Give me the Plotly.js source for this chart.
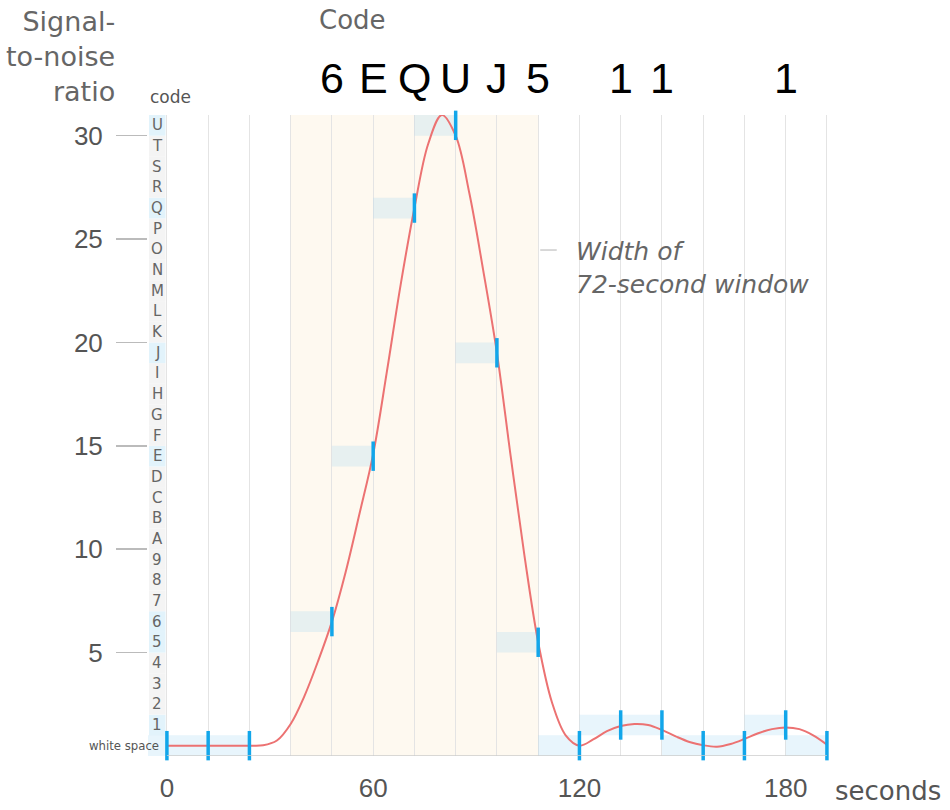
<!DOCTYPE html>
<html>
<head>
<meta charset="utf-8">
<script src="https://cdn.plot.ly/plotly-3.0.1.min.js"></script>
<style>html,body{margin:0;padding:0;background:#fff;}#chart{width:950px;height:810px;}</style>
</head>
<body>
<div id="chart"></div>
<script>
// ---- data ----
const codeList = ['white space','1','2','3','4','5','6','7','8','9','A','B','C','D','E','F','G','H','I','J','K','L','M','N','O','P','Q','R','S','T','U'];
const sampleSeconds = [0, 12, 24, 48, 60, 72, 84, 96, 108, 120, 132, 144, 156, 168, 180, 192];
const sampleCodes = ['white space','white space','white space','6','E','Q','U','J','5','white space','1','1','white space','white space','1','white space'];
const curveSeconds = [0, 8, 16, 24, 28, 32, 36, 40, 44, 48, 52, 56, 60, 64, 68, 72, 76, 80, 84, 88, 92, 96, 100, 104, 108, 112, 116, 120, 124, 128, 132, 136, 140, 144, 148, 152, 156, 160, 164, 168, 172, 176, 180, 184, 188, 192];
const curveSNR = [0.5, 0.5, 0.5, 0.5, 0.52, 0.75, 1.55, 2.9, 4.6, 6.5, 8.9, 11.7, 14.6, 18.6, 22.8, 26.5, 29.6, 31.0, 30.0, 27.2, 23.5, 19.5, 14.5, 9.7, 5.5, 2.6, 1.0, 0.5, 0.8, 1.2, 1.45, 1.55, 1.5, 1.26, 0.95, 0.68, 0.52, 0.45, 0.58, 0.82, 1.1, 1.3, 1.38, 1.3, 1.0, 0.55];
const windowSeconds = [36, 108];
const stepSeconds = 12;
const yTickVals = [5, 10, 15, 20, 25, 30];
const xTickVals = [0, 60, 120, 180];

// ---- derived ----
const codeIndex = c => codeList.indexOf(c);
const usedCodes = new Set(sampleCodes.filter(c => c !== 'white space'));

const shapes = [];
// 72-second window
shapes.push({type:'rect', xref:'x', yref:'paper', x0:windowSeconds[0], x1:windowSeconds[1], y0:0, y1:1,
  fillcolor:'#fef9f0', line:{width:0}, layer:'below'});
// code column backgrounds
codeList.forEach((c, i) => {
  if (i === 0) return;
  shapes.push({type:'rect', xref:'x', yref:'y', x0:-5.2, x1:-0.4, y0:i, y1:i+1,
    fillcolor: usedCodes.has(c) ? '#e2f3fb' : '#f4f4f4', line:{width:0}, layer:'below'});
});
// bottom axis line
shapes.push({type:'line', xref:'x', yref:'y', x0:0, x1:192, y0:0, y1:0, line:{color:'#cccccc', width:1.5}});
// leader line for window note
shapes.push({type:'line', xref:'x', yref:'y', x0:108.6, x1:113.4, y0:24.47, y1:24.47, line:{color:'#cccccc', width:1.5}});

const annotations = [];
codeList.forEach((c, i) => {
  if (i === 0) {
    annotations.push({xref:'x', yref:'y', x:-1.6, y:i+0.5, text:c, showarrow:false, xanchor:'right', yanchor:'middle',
      font:{family:'DejaVu Sans Condensed, DejaVu Sans', size:13, color:'#555'}});
  } else {
    annotations.push({xref:'x', yref:'y', x:-2.8, y:i+0.5, text:c, showarrow:false, xanchor:'center', yanchor:'middle',
      font:{family:'DejaVu Sans', size:15, color:'#666'}});
  }
});
// decoded characters on top
sampleSeconds.forEach((t, k) => {
  if (sampleCodes[k] === 'white space') return;
  annotations.push({xref:'x', yref:'paper', x:t, y:1.0577, text:sampleCodes[k], showarrow:false, xanchor:'center', yanchor:'middle',
    font:{family:'Liberation Sans, Arial', size:43, color:'#000'}});
});
annotations.push({xref:'paper', yref:'paper', x:0.248, y:1.148, text:'Code', showarrow:false, xanchor:'left', yanchor:'middle',
  font:{family:'DejaVu Sans', size:26, color:'#666'}});
annotations.push({xref:'paper', yref:'paper', x:-0.0455, y:1.092, text:'Signal-<br>to-noise<br>ratio', showarrow:false, xanchor:'right', yanchor:'middle', align:'right',
  font:{family:'DejaVu Sans', size:27, color:'#666'}});
annotations.push({xref:'paper', yref:'paper', x:0.0, y:1.028, text:'code', showarrow:false, xanchor:'left', yanchor:'middle',
  font:{family:'DejaVu Sans', size:17, color:'#555'}});
annotations.push({xref:'paper', yref:'paper', x:1.006, y:-0.0546, text:'seconds', showarrow:false, xanchor:'left', yanchor:'middle',
  font:{family:'DejaVu Sans', size:26, color:'#555'}});
annotations.push({xref:'x', yref:'y', x:118.5, y:23.6, text:'Width of<br>72-second window', showarrow:false, xanchor:'left', yanchor:'middle', align:'left',
  font:{family:'DejaVu Sans', size:25, color:'#666', style:'italic'}});

// sample rectangles as bars
const barX = sampleSeconds.map(t => t - stepSeconds/2);
const barBase = sampleCodes.map(c => codeIndex(c));
const barY = sampleCodes.map(() => 1);

const traces = [
  {type:'bar', x:barX, y:barY, base:barBase, width:stepSeconds, marker:{color:'rgba(150,210,240,0.22)', line:{width:0}},
   hoverinfo:'skip', showlegend:false},
  {type:'scatter', mode:'lines', x:curveSeconds, y:curveSNR, line:{color:'#ec7272', width:2, shape:'spline', smoothing:1},
   hoverinfo:'skip', showlegend:false},
  {type:'scatter', mode:'markers', x:sampleSeconds, y:sampleCodes.map(c => codeIndex(c) + 0.5),
   marker:{symbol:'line-ns', size:21, line:{color:'#12a6ea', width:3.5}, color:'#12a6ea'},
   cliponaxis:false, hoverinfo:'skip', showlegend:false}
];

const layout = {
  width:950, height:810,
  margin:{l:148, r:121, t:115, b:54},
  paper_bgcolor:'#fff', plot_bgcolor:'#fff',
  showlegend:false,
  barmode:'overlay',
  xaxis:{range:[-5.5, 192.6], tickmode:'array', tickvals:xTickVals, ticktext:xTickVals.map(String),
    showgrid:true, gridcolor:'#e4e4e4', gridwidth:1, zeroline:false, showline:false, ticks:'',
    ticklabelstandoff:14,
    minor:{tick0:0, dtick:stepSeconds, showgrid:true, gridcolor:'#e4e4e4', gridwidth:1},
    tickfont:{family:'Liberation Sans, Arial', size:26, color:'#555'}},
  yaxis:{range:[0, 31], tickmode:'array', tickvals:yTickVals, ticktext:yTickVals.map(String),
    showgrid:false, zeroline:false, showline:false, ticks:'outside', ticklen:31, tickcolor:'#bbbbbb', tickwidth:1.5,
    ticklabelstandoff:8,
    tickfont:{family:'Liberation Sans, Arial', size:26, color:'#555'}},
  shapes:shapes,
  annotations:annotations
};

Plotly.newPlot('chart', traces, layout, {displayModeBar:false, staticPlot:true});
</script>
</body>
</html>
